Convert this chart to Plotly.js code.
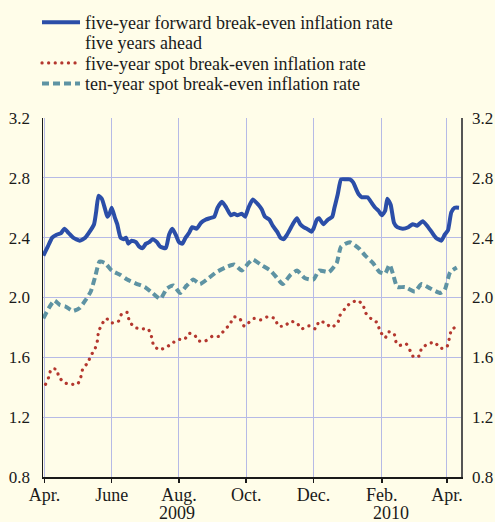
<!DOCTYPE html>
<html>
<head>
<meta charset="utf-8">
<script src="https://cdn.plot.ly/plotly-3.0.1.min.js"></script>
<style>
  html, body { margin: 0; padding: 0; background: #fffde9; }
  #chart { width: 495px; height: 522px; }
  .scatterlayer .trace:nth-child(2) .js-line { stroke-linecap: round; }
  .legend .traces:nth-child(2) .js-line { stroke-linecap: round; }
</style>
</head>
<body>
<div id="chart"></div>
<script>
// Days counted from 1 April 2009
const fwdDays = [-1,3,7,11,15,18,22,26,32,37,41,45,47,49,52,55,57,59,61,64,66,69,72,74,76,79,83,86,89,92,95,98,102,105,110,113,116,119,122,125,128,131,134,138,142,146,150,154,157,161,165,169,172,175,179,182,185,189,194,197,200,204,207,211,214,217,220,223,226,229,232,235,238,242,244,247,249,253,257,261,263,266,269,273,277,280,283,285,288,293,297,300,303,306,309,311,314,317,320,325,330,334,338,343,347,351,355,360,363,366,369,372,376];
const fwdRate = [2.28,2.34,2.40,2.42,2.43,2.46,2.43,2.40,2.38,2.40,2.44,2.49,2.58,2.68,2.66,2.59,2.54,2.56,2.60,2.53,2.49,2.40,2.39,2.40,2.36,2.38,2.37,2.34,2.33,2.36,2.37,2.39,2.37,2.34,2.33,2.42,2.46,2.42,2.37,2.36,2.40,2.43,2.47,2.46,2.50,2.52,2.53,2.54,2.60,2.64,2.60,2.55,2.56,2.55,2.56,2.54,2.60,2.655,2.62,2.59,2.54,2.52,2.48,2.44,2.40,2.39,2.42,2.46,2.50,2.53,2.49,2.47,2.46,2.44,2.46,2.52,2.53,2.49,2.52,2.54,2.60,2.69,2.79,2.79,2.79,2.77,2.72,2.69,2.67,2.67,2.63,2.60,2.58,2.55,2.58,2.66,2.62,2.50,2.47,2.46,2.47,2.49,2.48,2.51,2.48,2.44,2.40,2.38,2.42,2.45,2.57,2.60,2.60];

const spot5Days = [1,4,6,11,13,18,24,30,33,35,39,42,46,48,49,52,56,61,67,70,75,77,82,88,94,97,99,104,111,117,121,127,131,136,140,146,152,158,163,168,172,177,181,185,190,196,202,209,212,218,223,229,233,240,246,249,255,260,266,268,272,277,284,289,291,296,302,304,309,312,317,319,322,328,332,335,340,342,348,354,359,365,367,369,374];
const spot5Rate = [1.42,1.47,1.52,1.52,1.47,1.43,1.42,1.42,1.47,1.53,1.56,1.61,1.66,1.71,1.77,1.82,1.86,1.83,1.84,1.89,1.90,1.84,1.80,1.79,1.79,1.74,1.68,1.65,1.67,1.70,1.72,1.72,1.76,1.75,1.71,1.71,1.74,1.74,1.78,1.82,1.87,1.86,1.81,1.83,1.86,1.85,1.87,1.86,1.81,1.81,1.84,1.83,1.79,1.81,1.79,1.84,1.83,1.80,1.83,1.88,1.92,1.96,1.98,1.95,1.90,1.86,1.83,1.78,1.73,1.77,1.76,1.70,1.68,1.69,1.64,1.60,1.61,1.66,1.69,1.70,1.66,1.67,1.72,1.78,1.81];

const spot10Days = [-1,4,9,14,19,26,32,37,42,46,50,55,61,69,75,84,91,98,105,111,117,123,129,135,141,149,156,164,172,179,185,189,196,205,211,216,223,229,236,244,249,258,265,269,277,285,291,298,304,309,313,316,320,327,336,342,350,359,363,368,374];
const spot10Rate = [1.86,1.93,1.98,1.95,1.94,1.91,1.93,1.98,2.04,2.14,2.24,2.23,2.18,2.15,2.12,2.09,2.07,2.03,1.99,2.06,2.08,2.03,2.08,2.12,2.09,2.13,2.17,2.20,2.22,2.18,2.23,2.255,2.22,2.18,2.13,2.09,2.15,2.18,2.13,2.12,2.18,2.17,2.23,2.34,2.37,2.33,2.28,2.23,2.17,2.16,2.22,2.16,2.07,2.07,2.04,2.09,2.06,2.03,2.05,2.17,2.20];

const tickDates = ['2009-04-01','2009-06-01','2009-08-01','2009-10-01','2009-12-01','2010-02-01','2010-04-01'];
const tickLabels = ['Apr.','June','Aug.','Oct.','Dec.','Feb.','Apr.'];
const yTicks = [0.8, 1.2, 1.6, 2.0, 2.4, 2.8, 3.2];
const yearLabels = ['2009','2010'];
const yearDates = ['2009-07-30','2010-02-09'];
const seriesNames = ['five-year forward break-even inflation rate<br>five years ahead','five-year spot break-even inflation rate','ten-year spot break-even inflation rate'];

const base = Date.UTC(2009, 3, 1);
const toDate = d => new Date(base + d * 864e5).toISOString().slice(0, 10);

const FONT = "'Liberation Serif', 'Times New Roman', Times, serif";
const FS = 18, TFS = 17;
const traces = [
  { x: fwdDays.map(toDate), y: fwdRate, name: seriesNames[0], mode: 'lines',
    line: { color: '#2b4ea8', width: 4, shape: 'spline', smoothing: 0.5 } },
  { x: spot5Days.map(toDate), y: spot5Rate, name: seriesNames[1], mode: 'lines',
    line: { color: '#b4372e', width: 3.2, dash: '0.1px,6.5px', shape: 'spline', smoothing: 0.5 } },
  { x: spot10Days.map(toDate), y: spot10Rate, name: seriesNames[2], mode: 'lines',
    line: { color: '#5e93a3', width: 4, dash: '7px,4px', shape: 'spline', smoothing: 0.5 } },
  { x: fwdDays.map(toDate), y: fwdRate, yaxis: 'y2', mode: 'lines', showlegend: false,
    hoverinfo: 'skip', line: { width: 0, color: 'rgba(0,0,0,0)' } }
];

const yr = [0.8, 3.2];
const layout = {
  width: 495, height: 522,
  paper_bgcolor: '#fffde9', plot_bgcolor: '#fffde9',
  margin: { l: 43, r: 34, t: 118, b: 45, autoexpand: false },
  font: { family: FONT, size: FS, color: '#1a1a1a' },
  showlegend: true,
  legend: { x: 37 / 495, y: 1 - 4 / 522, xref: 'container', yref: 'container', yanchor: 'top', xanchor: 'left',
    bgcolor: 'rgba(0,0,0,0)', font: { family: FONT, size: FS, color: '#1a1a1a' },
    valign: 'top', tracegroupgap: 0, itemwidth: 38 },
  xaxis: {
    type: 'date', range: ['2009-03-30 16:00', '2010-04-13 19:00'],
    tickvals: tickDates, ticktext: tickLabels, tickmode: 'array',
    showgrid: true, gridcolor: '#b6bae6', gridwidth: 1,
    showline: true, linecolor: '#1a1a1a', linewidth: 1.5,
    ticks: 'outside', ticklen: 4, tickcolor: '#1a1a1a', tickwidth: 1.5,
    zeroline: false, fixedrange: true, automargin: false, ticklabelstandoff: -3,
    tickfont: { family: FONT, size: FS, color: '#1a1a1a' }
  },
  yaxis: {
    range: yr, tickvals: yTicks, tickformat: '.1f', tickmode: 'array',
    showgrid: true, gridcolor: '#b6bae6', gridwidth: 1,
    showline: true, linecolor: '#1a1a1a', linewidth: 1.5,
    ticks: '', ticklabelstandoff: 8, zeroline: false, fixedrange: true, automargin: false,
    tickfont: { family: FONT, size: TFS, color: '#1a1a1a' }
  },
  yaxis2: {
    range: yr, overlaying: 'y', side: 'right', anchor: 'x',
    tickvals: yTicks, tickformat: '.1f', tickmode: 'array',
    showgrid: false, showline: true, linecolor: '#555555', linewidth: 1.5,
    ticks: '', ticklabelstandoff: 6, zeroline: false, fixedrange: true, automargin: false,
    tickfont: { family: FONT, size: TFS, color: '#1a1a1a' }
  },
  annotations: yearLabels.map((t, i) => ({
    text: t, x: yearDates[i], xref: 'x', y: 0, yref: 'paper', yshift: -24,
    yanchor: 'top', showarrow: false, font: { family: FONT, size: FS, color: '#1a1a1a' }
  }))
};

// legend rows in the reference sit closer together than Plotly's default item gap
const legendRowOffsets = [0, 29, 49.5];

Plotly.newPlot('chart', traces, layout, { displayModeBar: false, staticPlot: true }).then(gd => {
  const items = gd.querySelectorAll('.legend .traces');
  if (!items.length) return;
  const re = /translate\(\s*([-\d.]+)[ ,]+([-\d.]+)\s*\)/;
  const m = re.exec(items[0].getAttribute('transform') || '');
  if (!m) return;
  const y0 = parseFloat(m[2]);
  items.forEach((g, i) => {
    const mm = re.exec(g.getAttribute('transform') || '');
    const xi = mm ? parseFloat(mm[1]) : parseFloat(m[1]);
    g.setAttribute('transform', 'translate(' + xi + ',' + (y0 + legendRowOffsets[i]) + ')');
  });
  // tighten the line break of the two-line first entry
  const lines = items[0].querySelectorAll('tspan.line');
  if (lines.length > 1) lines[1].setAttribute('dy', '1.08em');
});
</script>
</body>
</html>
